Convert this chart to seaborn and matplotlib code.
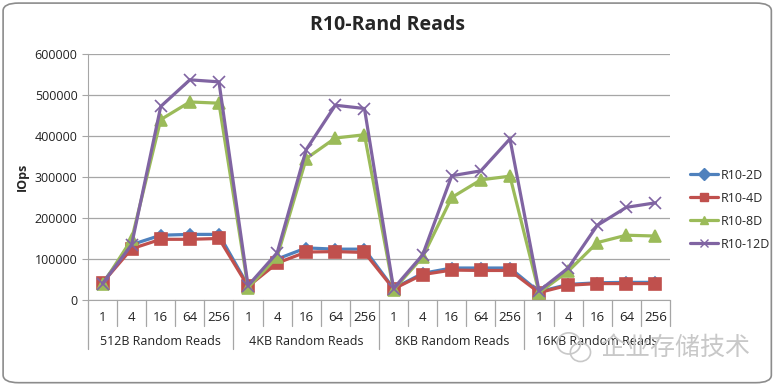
import pandas as pd
import numpy as np
import seaborn as sns
import matplotlib.pyplot as plt
from matplotlib.patches import FancyBboxPatch, Ellipse

# queue depths and block-size groups
depths = ['1', '4', '16', '64', '256']
groups = ['512B Random Reads', '4KB Random Reads', '8KB Random Reads', '16KB Random Reads']
series = ['R10-2D', 'R10-4D', 'R10-8D', 'R10-12D']

r10_2d = [42000, 135000, 158000, 160000, 160000,
          35000, 100000, 127000, 124000, 124000,
          28000, 65000, 78000, 78000, 78000,
          20000, 38000, 42000, 43000, 43000]
r10_4d = [42000, 125000, 148000, 148000, 150000,
          33000, 90000, 117000, 118000, 116000,
          27000, 62000, 73000, 72000, 72000,
          18000, 36000, 40000, 40000, 40000]
r10_8d = [38000, 148000, 440000, 483000, 480000,
          30000, 105000, 345000, 395000, 403000,
          25000, 105000, 250000, 293000, 302000,
          18000, 70000, 140000, 158000, 156000]
r10_12d = [40000, 135000, 472000, 537000, 532000,
           35000, 115000, 367000, 475000, 467000,
           28000, 110000, 303000, 315000, 393000,
           22000, 78000, 182000, 226000, 237000]

colors = {'R10-2D': '#4F81BD', 'R10-4D': '#C0504D', 'R10-8D': '#9BBB59', 'R10-12D': '#8064A2'}
markers = {'R10-2D': 'D', 'R10-4D': 's', 'R10-8D': '^', 'R10-12D': 'x'}
msizes = {'R10-2D': 5, 'R10-4D': 8, 'R10-8D': 8, 'R10-12D': 9}

n = len(depths) * len(groups)
df = pd.concat([
    pd.DataFrame({'pos': np.arange(n), 'IOps': vals, 'series': name})
    for name, vals in zip(series, [r10_2d, r10_4d, r10_8d, r10_12d])
], ignore_index=True)

sns.set_style('white')
plt.rcParams['font.family'] = ['Open Sans', 'Noto Sans CJK SC', 'DejaVu Sans']

fig = plt.figure(figsize=(7.76, 3.85), dpi=100)
fig.patches.append(FancyBboxPatch((0.004, 0.006), 0.99, 0.986, boxstyle='round,pad=0,rounding_size=0.02',
                                  transform=fig.transFigure, facecolor='white', edgecolor='#8c8c8c',
                                  linewidth=1.2, zorder=-1))
ax = fig.add_axes([0.1134, 0.2208, 0.75, 0.639])
ax.patch.set_alpha(0)

for name in series:
    sub = df[df.series == name]
    sns.lineplot(data=sub, x='pos', y='IOps', color=colors[name], marker=markers[name],
                 markersize=msizes[name], markeredgecolor=colors[name], markeredgewidth=1.2,
                 linewidth=2.3, ax=ax, legend=False, clip_on=False)

ax.set_xlim(-0.5, n - 0.5)
ax.set_ylim(0, 600000)
ax.set_yticks(np.arange(0, 600001, 100000))
ax.set_yticklabels([str(v) for v in range(0, 600001, 100000)], fontsize=9, color='#222222')
ax.yaxis.grid(True, color='#a6a6a6', linewidth=0.9)
ax.set_axisbelow(True)
ax.tick_params(axis='y', length=4, color='#a6a6a6', left=True)
ax.set_xticks(np.arange(n))
ax.set_xticklabels(depths * len(groups), fontsize=9.5, color='#222222')
ax.tick_params(axis='x', length=0, pad=8)
ax.set_xlabel('')
ax.set_ylabel('IOps', fontsize=9, fontweight='bold', labelpad=4)
for s in ['top', 'right']:
    ax.spines[s].set_visible(False)
for s in ['left', 'bottom']:
    ax.spines[s].set_color('#a6a6a6')

# two-level category axis separators
tr = ax.get_xaxis_transform()
for i in range(n + 1):
    x = i - 0.5
    long = (i % len(depths) == 0) and i < n
    ax.plot([x, x], [0, -0.2 if long else -0.105], transform=tr, color='#a6a6a6',
            linewidth=0.9, clip_on=False)
for g, name in enumerate(groups):
    ax.text(g * len(depths) + 2, -0.17, name, transform=tr, ha='center', va='center',
            fontsize=9, color='#222222')

fig.text(0.5, 0.935, 'R10-Rand Reads', ha='center', va='center', fontsize=14, fontweight='bold')

handles = [plt.Line2D([], [], color=colors[s], marker=markers[s], markersize=6, linewidth=2.3,
                      markeredgecolor=colors[s]) for s in series]
fig.legend(handles, series, loc='center left', bbox_to_anchor=(0.875, 0.455), frameon=False,
           fontsize=9, handlelength=2.2, handletextpad=0.2, labelspacing=0.8)

# watermark (wechat bubbles + account name)
for cx, cy, w, h in [(0.733, 0.108, 0.030, 0.055), (0.748, 0.085, 0.026, 0.048)]:
    fig.patches.append(Ellipse((cx, cy), w, h, transform=fig.transFigure, facecolor='none',
                               edgecolor='#c8c8c8', linewidth=1.2, zorder=5))
fig.text(0.967, 0.097, '企业存储技术', ha='right', va='center', fontsize=18, color='#c8c8c8',
         family=['Noto Sans CJK SC', 'DejaVu Sans'], zorder=5)

fig.savefig('out.png', dpi=100)
